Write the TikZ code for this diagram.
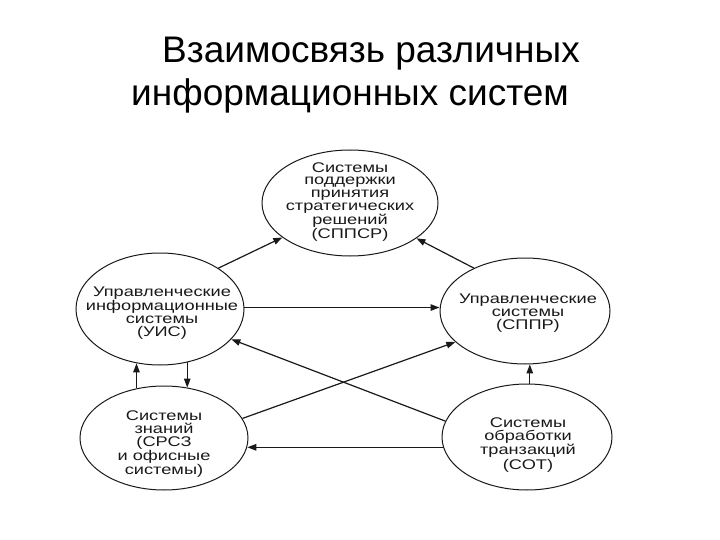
\documentclass[tikz,border=0pt]{standalone}
\usepackage{fontspec}
\setmainfont{Liberation Sans}
\newfontfamily\ellfont[FakeStretch=1.3]{Liberation Sans}
\usetikzlibrary{shapes.geometric,arrows.meta}

\begin{document}
\begin{tikzpicture}[x=1pt,y=-1pt,
 ell/.style={draw=black!90, line width=1pt, ellipse, inner sep=0pt},
 lbl/.style={align=center, font=\ellfont\fontsize{14}{12.8}\selectfont, text=black!90},
 ttl/.style={font=\fontsize{37}{44}\selectfont, anchor=base, text=black},
 arr/.style={draw=black!90, line width=1.2pt, -{Triangle[length=9pt,width=6.5pt]}},
]
\useasboundingbox[fill=white] (0,0) rectangle (720,540);

\node[ttl] (title1) at (371,63) {Взаимосвязь различных};
\node[ttl] (title2) at (350,106) {информационных систем};

\node[ell, minimum width=176pt, minimum height=106pt] (t) at (350,203) {};
\node[ell, minimum width=168pt, minimum height=112pt] (u) at (160,309) {};
\node[ell, minimum width=170pt, minimum height=106pt] (p) at (525,311) {};
\node[ell, minimum width=168pt, minimum height=104pt] (s) at (164,438) {};
\node[ell, minimum width=170pt, minimum height=106pt] (o) at (527,437) {};

\node[lbl] (tt) at (350,202) {Системы\\поддержки\\принятия\\стратегических\\решений\\(СППСР)};
\node[lbl] (ut) at (162,313) {Управленческие\\информационные\\системы\\(УИС)};
\node[lbl] (pt) at (528,313) {Управленческие\\системы\\(СППР)};
\node[lbl] (st) at (164,444) {Системы\\знаний\\(СРСЗ\\и офисные\\системы)};
\node[lbl] (ot) at (528,445) {Системы\\обработки\\транзакций\\(СОТ)};

\draw[arr] (u.35) -- (t.207);
\draw[arr] (p.140) -- (t.332);
\draw[arr] (u.1) -- (p.west |- u.1);
\draw[arr] (o.169) -- (u.337);
\draw[arr] (s.14) -- (p.204);
\draw[arr] (s.119) -- (s.119 |- u.247);
\draw[arr] (u.297) -- (u.297 |- s.65);
\draw[arr] (o.87) -- (o.87 |- p.275);
\draw[arr] (o.187) -- (o.187 -| s.354);
\end{tikzpicture}
\end{document}
